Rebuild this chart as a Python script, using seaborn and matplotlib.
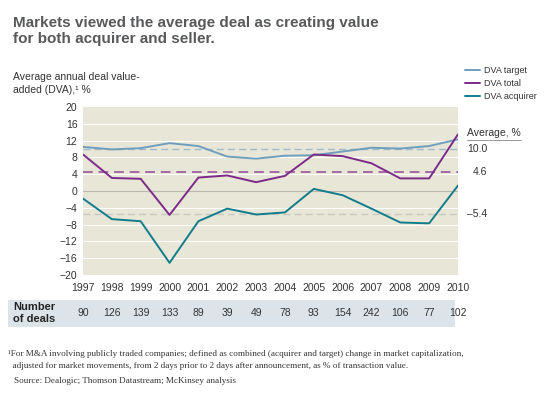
import matplotlib
matplotlib.use('Agg')
import matplotlib.pyplot as plt
import seaborn as sns
import pandas as pd
import numpy as np
from matplotlib.lines import Line2D
from matplotlib.patches import Rectangle

# Data
years = list(range(1997, 2011))
dva_target = [10.5, 9.9, 10.2, 11.4, 10.7, 8.2, 7.7, 8.4, 8.5, 9.4, 10.3, 10.1, 10.7, 12.3]
dva_total = [8.7, 3.1, 2.9, -5.7, 3.2, 3.7, 2.1, 3.6, 8.7, 8.3, 6.6, 3.0, 3.0, 13.5]
dva_acquirer = [-1.8, -6.7, -7.2, -17.1, -7.2, -4.2, -5.6, -5.1, 0.5, -1.0, -4.2, -7.5, -7.7, 1.3]
averages = {'DVA target': 10.0, 'DVA total': 4.6, 'DVA acquirer': -5.4}
avg_labels = ['10.0', '4.6', '\u20135.4']
deals = [90, 126, 139, 133, 89, 39, 49, 78, 93, 154, 242, 106, 77, 102]
y_ticks = list(range(-20, 21, 4))

colors = {'DVA target': '#6f9fbd', 'DVA total': '#7c2b8a', 'DVA acquirer': '#117c8c'}
avg_colors = {'DVA target': '#9fbccd', 'DVA total': '#a56aa6', 'DVA acquirer': '#c9c9c4'}

df = pd.DataFrame({
    'year': years * 3,
    'value': dva_target + dva_total + dva_acquirer,
    'series': ['DVA target'] * 14 + ['DVA total'] * 14 + ['DVA acquirer'] * 14,
})

sns.set_style('white')
plt.rcParams['font.family'] = ['Liberation Sans', 'DejaVu Sans']
serif = ['Liberation Serif', 'DejaVu Serif']

fig = plt.figure(figsize=(5.45, 3.94), dpi=100)
ax = fig.add_axes([83 / 545, 1 - 275 / 394, 375 / 545, 168 / 394])
ax.set_facecolor('#e8e6d6')

# grid
for t in y_ticks:
    if t == 0:
        ax.axhline(t, color='#b9b8ae', lw=0.8, zorder=1)
    elif t not in (-20, 20):
        ax.axhline(t, color='white', lw=0.8, zorder=1)

# average lines
for name, val in averages.items():
    lw = 1.4 if name == 'DVA total' else 1.0
    ax.axhline(val, color=avg_colors[name], lw=lw, ls=(0, (5, 3)), zorder=2)

sns.lineplot(data=df, x='year', y='value', hue='series', palette=colors,
             linewidth=1.4, legend=False, ax=ax, zorder=3)

ax.set_xlim(1997, 2010)
ax.set_ylim(-20, 20)
ax.set_yticks(y_ticks)
ax.set_yticklabels([str(t).replace('-', '\u2212') for t in y_ticks])
ax.set_xticks(years)
ax.set_xticklabels([str(y) for y in years])
ax.tick_params(axis='y', length=0, pad=4, labelsize=7.5, labelcolor='#333333')
ax.tick_params(axis='x', direction='in', length=3, width=0.6, color='#777777',
               pad=6, labelsize=7.5, labelcolor='#333333')
ax.set_xlabel('')
ax.set_ylabel('')
for s in ax.spines.values():
    s.set_visible(False)

# title
fig.text(13 / 545, 1 - 16 / 394, 'Markets viewed the average deal as creating value\nfor both acquirer and seller.',
         ha='left', va='top', fontsize=11, fontweight='bold', color='#58595b', linespacing=1.2)

# axis caption
fig.text(13 / 545, 1 - 72 / 394, 'Average annual deal value-\nadded (DVA),\u00b9 %',
         ha='left', va='top', fontsize=7.5, color='#333333', linespacing=1.35)

# legend
names = ['DVA target', 'DVA total', 'DVA acquirer']
handles = [Line2D([], [], color=colors[n], lw=1.4) for n in names]
fig.legend(handles, names, loc='upper left',
           bbox_to_anchor=(457 / 545, 1 - 58 / 394), frameon=False, fontsize=6.5,
           handlelength=1.6, handletextpad=0.5, labelspacing=0.45, labelcolor='#333333')

# averages labels
fig.text(467 / 545, 1 - 133 / 394, 'Average, %', ha='left', va='center', fontsize=7.5, color='#333333')
fig.add_artist(Line2D([467 / 545, 521 / 545], [1 - 140 / 394] * 2, color='#999999', lw=0.7))
for val, lab in zip(averages.values(), avg_labels):
    ax.annotate(lab, xy=(1, val), xycoords=('axes fraction', 'data'), xytext=(29, 0),
                textcoords='offset pixels', ha='right', va='center', fontsize=7.5, color='#333333')

# number of deals band
fig.add_artist(Rectangle((8 / 545, 1 - 327 / 394), 447 / 545, 27 / 394,
                         transform=fig.transFigure, facecolor='#dde4e9', edgecolor='none', zorder=0))
fig.text(13 / 545, 1 - 313 / 394, 'Number\nof deals', ha='left', va='center', fontsize=8,
         fontweight='bold', color='#222222', linespacing=1.15)
for yr, n in zip(years, deals):
    ax.annotate(str(n), xy=(yr, 0), xycoords=('data', 'axes fraction'), xytext=(0, -38),
                textcoords='offset pixels', ha='center', va='center', fontsize=7.5, color='#333333',
                annotation_clip=False)

# footnotes
fig.text(8 / 545, 1 - 360 / 394,
         '\u00b9For M&A involving publicly traded companies; defined as combined (acquirer and target) change in market capitalization,\n'
         '  adjusted for market movements, from 2 days prior to 2 days after announcement, as % of transaction value.',
         ha='left', va='center', fontsize=6.6, family=serif, color='#333333', linespacing=1.6)
fig.text(14 / 545, 1 - 381 / 394, 'Source: Dealogic; Thomson Datastream; McKinsey analysis',
         ha='left', va='center', fontsize=6.6, family=serif, color='#333333')

fig.savefig('out.png', dpi=100)
